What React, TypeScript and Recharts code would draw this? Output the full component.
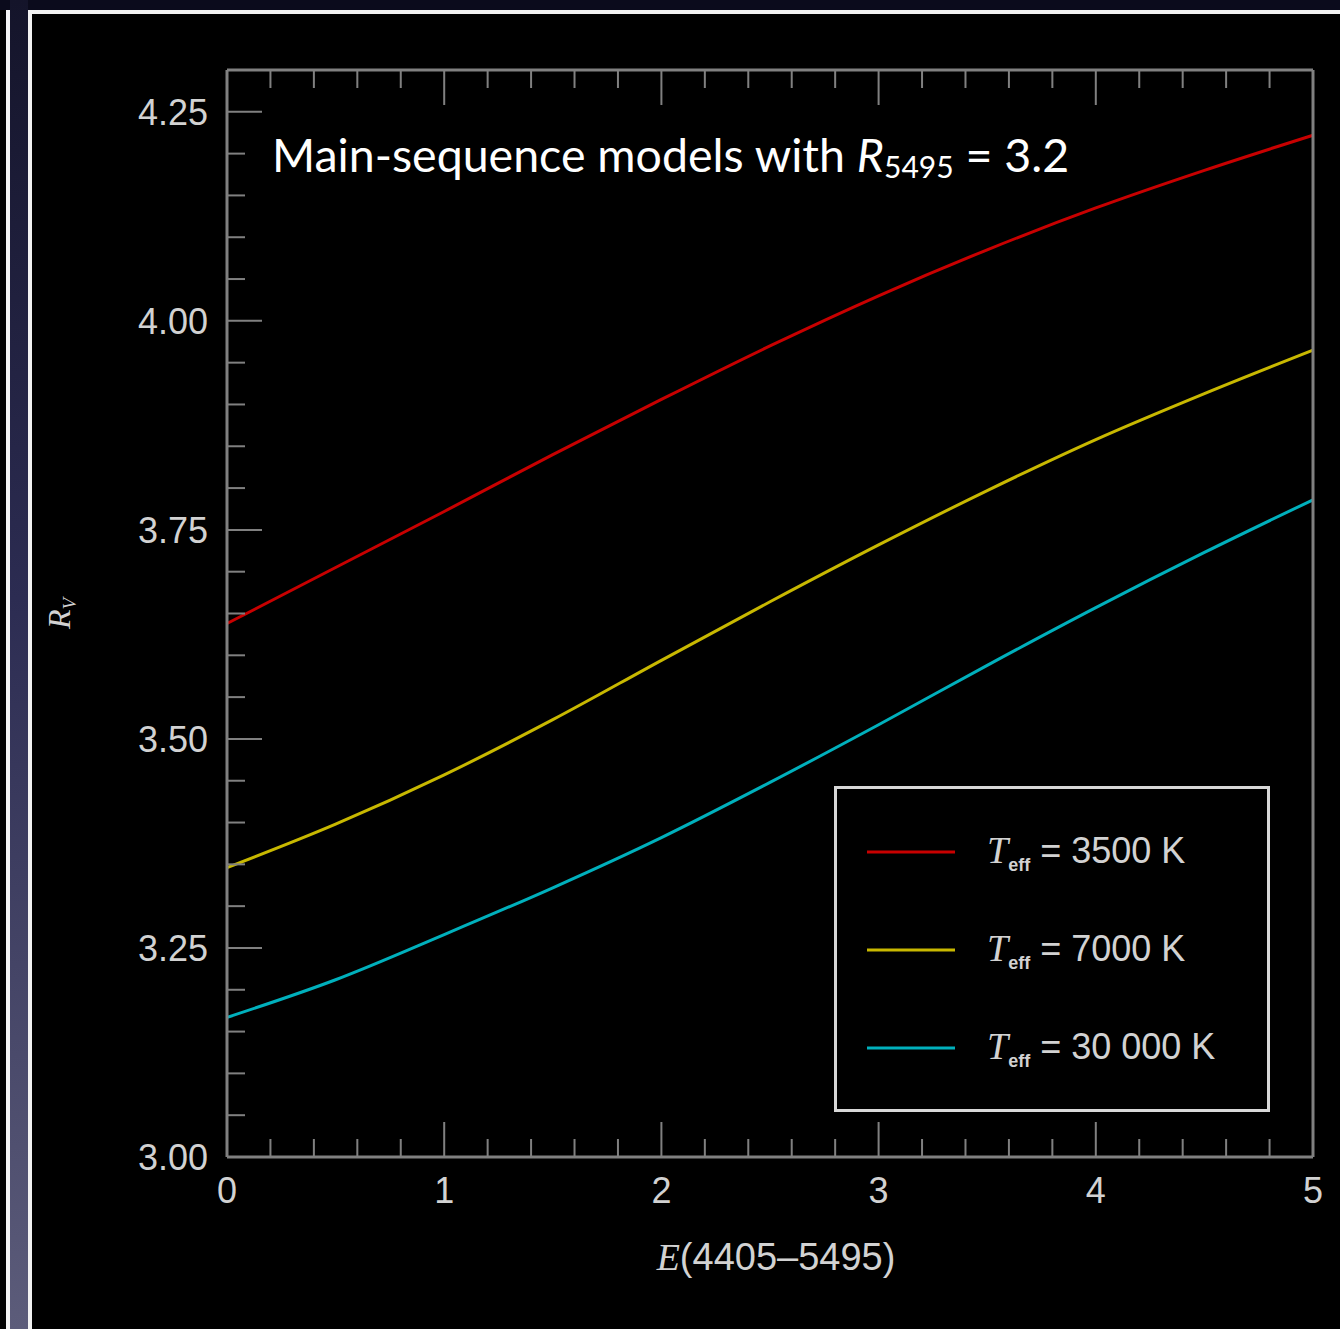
import { LineChart, Line, XAxis, YAxis, Legend } from "recharts";

// colour excess E(4405-5495)
const eValues = [0, 0.5, 1, 1.5, 2, 2.5, 3, 3.5, 4, 4.5, 5];

// R_V for each effective temperature
const rv3500 = [3.638, 3.705, 3.772, 3.84, 3.906, 3.97, 4.03, 4.085, 4.135, 4.18, 4.222];
const rv7000 = [3.346, 3.398, 3.457, 3.523, 3.594, 3.664, 3.732, 3.797, 3.858, 3.913, 3.965];
const rv30000 = [3.167, 3.212, 3.266, 3.322, 3.382, 3.448, 3.517, 3.588, 3.657, 3.723, 3.786];

const tempNames = ["3500", "7000", "30 000"];

const xTicks = [
  0, 0.2, 0.4, 0.6, 0.8, 1, 1.2, 1.4, 1.6, 1.8, 2, 2.2, 2.4, 2.6, 2.8, 3, 3.2, 3.4, 3.6, 3.8, 4,
  4.2, 4.4, 4.6, 4.8, 5,
];
const yTicks = [
  3, 3.05, 3.1, 3.15, 3.2, 3.25, 3.3, 3.35, 3.4, 3.45, 3.5, 3.55, 3.6, 3.65, 3.7, 3.75, 3.8, 3.85,
  3.9, 3.95, 4, 4.05, 4.1, 4.15, 4.2, 4.25,
];

const data = eValues.map((e, i) => ({
  e,
  t3500: rv3500[i],
  t7000: rv7000[i],
  t30000: rv30000[i],
}));

const TICK = "#808080";
const LABEL = "#d2d2d2";
const SANS = "'Liberation Sans', Arial, sans-serif";
const SERIF = "'Liberation Serif', 'Times New Roman', serif";

const majorX = (v: number) => Math.abs(v - Math.round(v)) < 1e-6;
const majorY = (v: number) => Math.abs(v * 4 - Math.round(v * 4)) < 1e-6;

function LeftTick(props: any) {
  const { x, y, payload } = props;
  const big = majorY(payload.value);
  return (
    <g>
      <line x1={x} x2={x + (big ? 35 : 18)} y1={y} y2={y} stroke={TICK} strokeWidth={2} />
      {big && (
        <text x={x - 19} y={y} dy="0.36em" textAnchor="end" fill={LABEL} fontSize={36} fontFamily={SANS}>
          {payload.value.toFixed(2)}
        </text>
      )}
    </g>
  );
}

function RightTick(props: any) {
  const { x, y, payload } = props;
  const big = majorY(payload.value);
  return <line x1={x} x2={x - (big ? 35 : 18)} y1={y} y2={y} stroke={TICK} strokeWidth={2} />;
}

function BottomTick(props: any) {
  const { x, y, payload } = props;
  const big = majorX(payload.value);
  return (
    <g>
      <line x1={x} x2={x} y1={y} y2={y - (big ? 35 : 18)} stroke={TICK} strokeWidth={2} />
      {big && (
        <text x={x} y={y + 33} dy="0.36em" textAnchor="middle" fill={LABEL} fontSize={36} fontFamily={SANS}>
          {payload.value}
        </text>
      )}
    </g>
  );
}

function TopTick(props: any) {
  const { x, y, payload } = props;
  const big = majorX(payload.value);
  return <line x1={x} x2={x} y1={y} y2={y + (big ? 35 : 18)} stroke={TICK} strokeWidth={2} />;
}

function XTitle(props: any) {
  const vb = props.viewBox || { x: 227, y: 1157, width: 1086 };
  return (
    <text x={vb.x + vb.width / 2 + 6} y={vb.y + 113} textAnchor="middle" fill={LABEL} fontSize={38} fontFamily={SANS}>
      <tspan fontFamily={SERIF} fontStyle="italic">E</tspan>
      <tspan>(4405–5495)</tspan>
    </text>
  );
}

function YTitle(props: any) {
  const vb = props.viewBox || { x: 27, y: 70, height: 1087 };
  const cx = vb.x + 43;
  const cy = vb.y + vb.height / 2;
  return (
    <text x={cx} y={cy} textAnchor="middle" fill={LABEL} fontFamily={SERIF} fontStyle="italic" transform={`rotate(-90, ${cx}, ${cy})`}>
      <tspan fontSize={32}>R</tspan>
      <tspan fontSize={19} dy={6}>V</tspan>
    </text>
  );
}

function LegendBox(props: any) {
  const items = [...(props.payload || [])].sort(
    (a: any, b: any) => tempNames.indexOf(a.value) - tempNames.indexOf(b.value)
  );
  return (
    <div
      style={{
        width: 430,
        height: 306,
        border: "3px solid #d8d8d8",
        boxSizing: "content-box",
        paddingTop: 14,
      }}
    >
      {items.map((p: any) => (
        <div key={p.value} style={{ height: 98, display: "flex", alignItems: "center" }}>
          <svg width={150} height={10} style={{ flex: "none" }}>
            <line x1={30} x2={118} y1={5} y2={5} stroke={p.color} strokeWidth={3} />
          </svg>
          <span style={{ color: LABEL, fontFamily: SANS, fontSize: 36, whiteSpace: "nowrap" }}>
            <i style={{ fontFamily: SERIF, fontSize: 38 }}>T</i>
            <sub style={{ fontSize: 18, fontWeight: "bold", verticalAlign: -8 }}>eff</sub> = {p.value} K
          </span>
        </div>
      ))}
    </div>
  );
}

export default function App() {
  return (
    <div style={{ position: "absolute", left: 0, top: 0, width: 1340, height: 1329, background: "#000", overflow: "hidden" }}>
      <div style={{ position: "absolute", left: 0, top: 0, width: 1340, height: 10, background: "#0b0b1c" }} />
      <div style={{ position: "absolute", left: 6, top: 10, width: 4, height: 1319, background: "#f2f2f2" }} />
      <div
        style={{
          position: "absolute",
          left: 10,
          top: 0,
          width: 18,
          height: 1329,
          background: "linear-gradient(#14142a, #2c2c52 45%, #5c5c7a)",
        }}
      />
      <div style={{ position: "absolute", left: 28, top: 10, width: 1312, height: 4, background: "#f2f2f2" }} />
      <div style={{ position: "absolute", left: 28, top: 10, width: 4, height: 1319, background: "#f2f2f2" }} />

      <div style={{ position: "absolute", left: 0, top: 0 }}>
        <LineChart width={1340} height={1329} data={data} margin={{ top: 60, right: 17, bottom: 52, left: 27 }}>
          <XAxis
            dataKey="e"
            type="number"
            domain={[0, 5]}
            ticks={xTicks}
            interval={0}
            height={120}
            tickSize={0}
            tickMargin={0}
            tick={<BottomTick />}
            axisLine={{ stroke: TICK, strokeWidth: 3 }}
            label={{ position: "bottom", content: <XTitle /> }}
          />
          <XAxis
            xAxisId="top"
            orientation="top"
            dataKey="e"
            type="number"
            domain={[0, 5]}
            ticks={xTicks}
            interval={0}
            height={10}
            tickSize={0}
            tickMargin={0}
            tick={<TopTick />}
            axisLine={{ stroke: TICK, strokeWidth: 3 }}
          />
          <YAxis
            type="number"
            domain={[3, 4.3]}
            ticks={yTicks}
            interval={0}
            width={200}
            tickSize={0}
            tickMargin={0}
            tick={<LeftTick />}
            axisLine={{ stroke: TICK, strokeWidth: 3 }}
            label={{ position: "left", content: <YTitle /> }}
          />
          <YAxis
            yAxisId="right"
            orientation="right"
            type="number"
            domain={[3, 4.3]}
            ticks={yTicks}
            interval={0}
            width={10}
            tickSize={0}
            tickMargin={0}
            tick={<RightTick />}
            axisLine={{ stroke: TICK, strokeWidth: 3 }}
          />
          <Legend
            layout="vertical"
            align="center"
            verticalAlign="middle"
            content={<LegendBox />}
            wrapperStyle={{ left: 834, top: 786, width: 436 }}
          />
          <Line type="monotone" dataKey="t3500" name={tempNames[0]} stroke="#c80000" strokeWidth={3} dot={false} isAnimationActive={false} />
          <Line type="monotone" dataKey="t7000" name={tempNames[1]} stroke="#c8b800" strokeWidth={3} dot={false} isAnimationActive={false} />
          <Line type="monotone" dataKey="t30000" name={tempNames[2]} stroke="#00b0bc" strokeWidth={3} dot={false} isAnimationActive={false} />
        </LineChart>
      </div>

      <div
        style={{
          position: "absolute",
          left: 272,
          top: 124,
          color: "#fff",
          fontFamily: "Lato, 'Open Sans', sans-serif",
          fontSize: 46.5,
          lineHeight: "60px",
          whiteSpace: "nowrap",
        }}
      >
        Main-sequence models with <i>R</i>
        <span style={{ fontSize: 30, verticalAlign: -6 }}>5495</span> = 3.2
      </div>
    </div>
  );
}
